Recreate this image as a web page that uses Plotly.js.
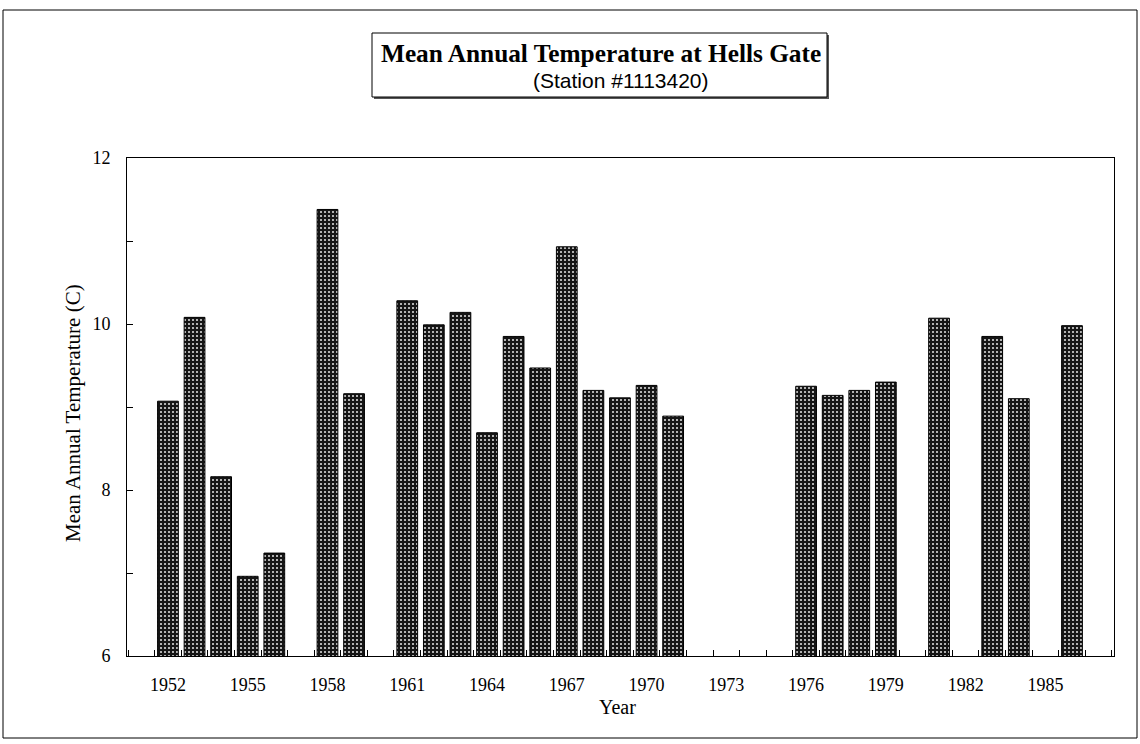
<!DOCTYPE html>
<html>
<head>
<meta charset="utf-8">
<script src="https://cdn.plot.ly/plotly-3.0.1.min.js"></script>
<style>html,body{margin:0;padding:0;background:#fff;}#chart{width:1140px;height:744px;}</style>
</head>
<body>
<div id="chart"></div>
<script>
// Data
const years = [1952,1953,1954,1955,1956,1958,1959,1961,1962,1963,1964,1965,1966,1967,1968,1969,1970,1971,1976,1977,1978,1979,1981,1983,1984,1986];
const meanTemp = [9.07,10.08,8.16,6.96,7.24,11.38,9.16,10.28,9.99,10.14,8.69,9.85,9.47,10.93,9.20,9.11,9.26,8.89,9.25,9.14,9.20,9.30,10.07,9.85,9.10,9.98];
const xTickYears = [1952,1955,1958,1961,1964,1967,1970,1973,1976,1979,1982,1985];
const xTickLabels = ['1952','1955','1958','1961','1964','1967','1970','1973','1976','1979','1982','1985'];
const yTickVals = [6,7,8,9,10,11,12];
const yTickLabels = ['6','','8','','10','','12'];

const serif = 'Liberation Serif, Times New Roman, serif';
const xRange = [1950.46, 1987.58];

const trace = {
  type: 'bar',
  x: years,
  y: meanTemp,
  width: 0.78,
  marker: {
    color: '#1c1c1c',
    line: {color: '#000', width: 1},
    pattern: {shape: '.', fillmode: 'replace', bgcolor: '#151515', fgcolor: '#d8d8d8', size: 4, solidity: 0.22}
  },
  hoverinfo: 'x+y',
  showlegend: false
};

const L = 127, R = 1114, T = 158, B = 656, W = 1140, H = 744;
const pw = R - L, ph = B - T;
const px = v => (v - L) / pw;
const py = v => (B - v) / ph;

const layout = {
  width: W, height: H,
  margin: {l: L, r: W - R, t: T, b: H - B},
  paper_bgcolor: '#fff', plot_bgcolor: '#fff',
  font: {family: serif, color: '#000', size: 18},
  xaxis: {
    range: xRange, tickmode: 'array', tickvals: xTickYears, ticktext: xTickLabels,
    ticks: 'inside', ticklen: 0, tickcolor: '#000', showgrid: false, zeroline: false,
    showline: true, linecolor: '#000', linewidth: 1, mirror: true,
    minor: {tickmode: 'linear', tick0: 1951.5, dtick: 1, ticks: 'inside', ticklen: 6, tickcolor: '#000', tickwidth: 1, showgrid: false},
    tickfont: {family: serif, size: 18, color: '#000'},
    ticklabelstandoff: 12, automargin: false
  },
  yaxis: {
    range: [6, 12], tickvals: yTickVals, ticktext: yTickLabels,
    ticks: 'inside', ticklen: 6, tickcolor: '#000', tickwidth: 1,
    showgrid: false, zeroline: false,
    showline: true, linecolor: '#000', linewidth: 1, mirror: true,
    tickfont: {family: serif, size: 18, color: '#000'},
    ticklabelstandoff: 12, automargin: false
  },
  shapes: [
    {type: 'rect', xref: 'paper', yref: 'paper', x0: px(3), x1: px(1137), y0: py(738), y1: py(10), line: {color: '#000', width: 1}, layer: 'below'},
    {type: 'rect', xref: 'paper', yref: 'paper', x0: px(374), x1: px(829), y0: py(99), y1: py(35), fillcolor: '#555', line: {width: 0}},
    {type: 'rect', xref: 'paper', yref: 'paper', x0: px(372), x1: px(827), y0: py(97), y1: py(33), fillcolor: '#fff', line: {color: '#000', width: 1}}
  ],
  annotations: [
    {text: '<b>Mean Annual Temperature at Hells Gate</b>', xref: 'paper', yref: 'paper', x: px(601), y: py(53), xanchor: 'center', yanchor: 'middle', showarrow: false, font: {family: serif, size: 25.3, color: '#000'}},
    {text: '(Station #1113420)', xref: 'paper', yref: 'paper', x: px(621), y: py(80), xanchor: 'center', yanchor: 'middle', showarrow: false, font: {family: 'Liberation Sans, Arial, sans-serif', size: 21, color: '#000'}},
    {text: 'Mean Annual Temperature (C)', xref: 'paper', yref: 'paper', x: px(73), y: py(413), xanchor: 'center', yanchor: 'middle', textangle: -90, showarrow: false, font: {family: serif, size: 21, color: '#000'}},
    {text: 'Year', xref: 'paper', yref: 'paper', x: px(617), y: py(707), xanchor: 'center', yanchor: 'middle', showarrow: false, font: {family: serif, size: 20, color: '#000'}}
  ]
};

Plotly.newPlot('chart', [trace], layout, {displayModeBar: false, staticPlot: true});
</script>
</body>
</html>
